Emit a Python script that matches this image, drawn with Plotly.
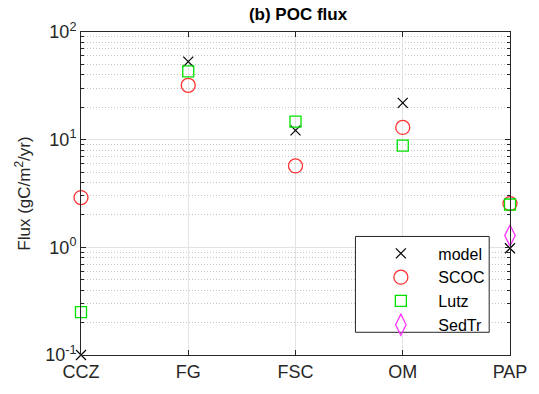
import plotly.graph_objects as go

# Sites and POC flux estimates (gC/m^2/yr)
sites = ["CCZ", "FG", "FSC", "OM", "PAP"]
site_pos = [1, 2, 3, 4, 5]
model = [0.1, 53, 12.2, 22, 0.98]
scoc = [2.9, 32, 5.7, 13, 2.55]
lutz = [0.25, 43, 14.7, 8.8, 2.5]
sedtr_pos = [5]
sedtr = [1.29]

ytick_vals = [0.1, 1, 10, 100]
ytick_text = ["10<sup>-1</sup>", "10<sup>0</sup>", "10<sup>1</sup>", "10<sup>2</sup>"]

fig = go.Figure()
fig.add_trace(go.Scatter(x=site_pos, y=model, mode="markers", name="model",
                         marker=dict(symbol="x-thin-open", size=10, color="black",
                                     line=dict(width=1.2, color="black")),
                         cliponaxis=False))
fig.add_trace(go.Scatter(x=site_pos, y=scoc, mode="markers", name="SCOC",
                         marker=dict(symbol="circle-open", size=14, color="#ff3030",
                                     line=dict(width=1.3)),
                         cliponaxis=False))
fig.add_trace(go.Scatter(x=site_pos, y=lutz, mode="markers", name="Lutz",
                         marker=dict(symbol="square-open", size=11, color="#00e000",
                                     line=dict(width=1.3)),
                         cliponaxis=False))
fig.add_trace(go.Scatter(x=sedtr_pos, y=sedtr, mode="markers", name="SedTr",
                         marker=dict(symbol="diamond-tall-open", size=15, color="#ff30ff",
                                     line=dict(width=1.3)),
                         cliponaxis=False))

font = "Liberation Sans, Arial, sans-serif"
L, R, T, B = 81, 25, 32, 35
pw, ph = 539 - L - R, 394 - T - B


def px_x(x):
    return (x - L) / pw


def px_y(y):
    return (394 - B - y) / ph


fig.update_layout(
    width=539, height=394,
    margin=dict(l=L, r=R, t=T, b=B),
    paper_bgcolor="white", plot_bgcolor="white",
    font=dict(family=font, size=16, color="#262626"),
    title=dict(text="<b>(b) POC flux</b>", x=(81 + 217) / 539, xanchor="center",
               y=1 - 14 / 394, yanchor="middle",
               font=dict(size=17, color="black")),
    showlegend=True,
    legend=dict(x=px_x(366), y=px_y(239), xanchor="left", yanchor="top",
                bgcolor="rgba(0,0,0,0)", borderwidth=0,
                font=dict(size=16, color="black"), itemwidth=65,
                tracegroupgap=0),
    shapes=[dict(type="rect", xref="paper", yref="paper",
                 x0=px_x(358), x1=px_x(493), y0=px_y(336), y1=px_y(239),
                 line=dict(color="#262626", width=1), fillcolor="white",
                 layer="above")],
)
fig.update_xaxes(
    range=[1, 5], tickvals=site_pos, ticktext=sites,
    showline=True, linecolor="#262626", linewidth=1, mirror="ticks",
    ticks="inside", ticklen=5, tickcolor="#262626",
    showgrid=True, gridcolor="#e3e3e3", gridwidth=1, zeroline=False,
    tickfont=dict(size=18, color="#262626"),
)
fig.update_yaxes(
    type="log", range=[-1, 2], tickvals=ytick_vals, ticktext=ytick_text,
    showline=True, linecolor="#262626", linewidth=1, mirror="ticks",
    ticks="inside", ticklen=5, tickcolor="#262626",
    showgrid=True, gridcolor="#e3e3e3", gridwidth=1, zeroline=False,
    tickfont=dict(size=18, color="#262626"),
    title=dict(text="Flux (gC/m<sup>2</sup>/yr)", font=dict(size=17, color="#262626"),
               standoff=10),
    minor=dict(dtick="D1", ticks="inside", ticklen=3, tickcolor="#262626",
               showgrid=True, gridcolor="#c4c4c4", griddash="1px,2px", gridwidth=1),
)

fig.write_html("out.html")
